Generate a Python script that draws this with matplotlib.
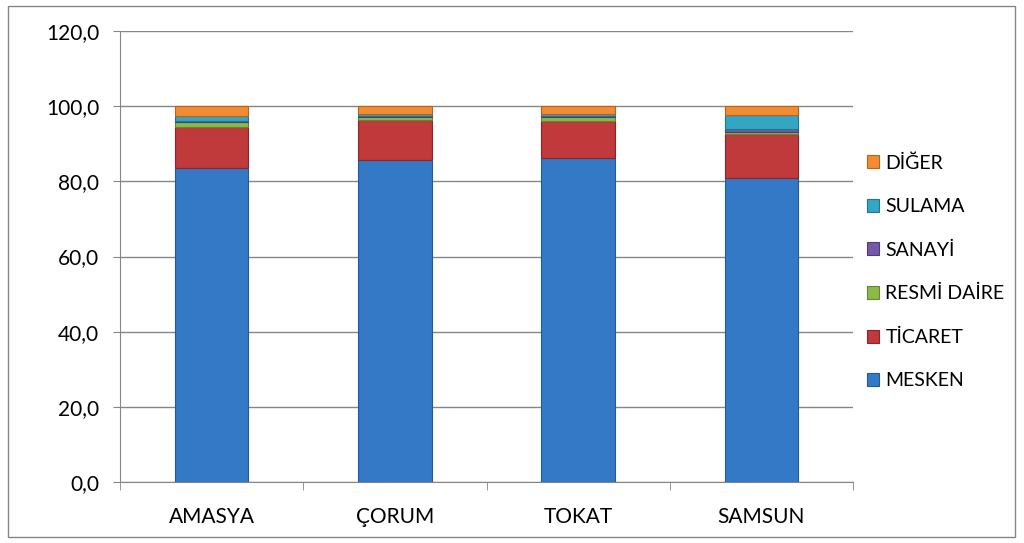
import matplotlib
matplotlib.use("Agg")
import matplotlib.pyplot as plt
from matplotlib.patches import Rectangle
import numpy as np

plt.rcParams['font.family'] = ['Lato', 'DejaVu Sans']

categories = ["AMASYA", "ÇORUM", "TOKAT", "SAMSUN"]
series_names = ["MESKEN", "TİCARET", "RESMİ DAİRE", "SANAYİ", "SULAMA", "DİĞER"]
mesken = [83.6, 85.7, 86.3, 81.0]
ticaret = [10.9, 10.6, 9.8, 11.7]
resmi = [1.3, 0.9, 1.0, 0.5]
sanayi = [0.2, 0.2, 0.2, 0.6]
sulama = [1.4, 0.6, 0.6, 3.8]
diger = [2.6, 2.0, 2.1, 2.4]
yticks = [0, 20, 40, 60, 80, 100, 120]
ytick_labels = ["0,0", "20,0", "40,0", "60,0", "80,0", "100,0", "120,0"]

colors = ["#3479C6", "#C0393B", "#8DB84A", "#7559A6", "#33A6C4", "#F18C33"]
edges = ["#1F5A99", "#8E2426", "#5E8A2C", "#4F3A7A", "#1F7690", "#B9621A"]
series = [mesken, ticaret, resmi, sanayi, sulama, diger]

fig = plt.figure(figsize=(10.24, 5.43), dpi=100)
ax = fig.add_axes([120/1024, 1-482/543, 733/1024, 451/543])

x = np.arange(len(categories))
bottom = np.zeros(len(categories))
handles = []
for name, vals, c, e in zip(series_names, series, colors, edges):
    b = ax.bar(x, vals, width=0.4, bottom=bottom, color=c, edgecolor=e,
               linewidth=0.8, label=name, zorder=3)
    handles.append(b)
    bottom += np.array(vals)

ax.set_xlim(-0.5, len(categories) - 0.5)
ax.set_ylim(0, 120)
ax.set_yticks(yticks)
ax.set_yticklabels(ytick_labels, fontsize=15)
ax.set_xticks(x)
ax.set_xticklabels(categories, fontsize=15)
ax.set_xticks(np.arange(-0.5, len(categories)), minor=True)
ax.tick_params(axis='x', which='major', length=0, pad=18)
ax.tick_params(axis='x', which='minor', length=6, color='#868686')
ax.tick_params(axis='y', length=5, color='#868686', pad=10)
ax.yaxis.grid(True, color='#868686', linewidth=1, zorder=0)
for s in ['top', 'right']:
    ax.spines[s].set_visible(False)
for s in ['left', 'bottom']:
    ax.spines[s].set_color('#868686')

leg = ax.legend(handles[::-1], series_names[::-1], loc='center left',
                bbox_to_anchor=(0.995, 0.466), frameon=False, fontsize=14,
                handlelength=0.65, handleheight=0.65, handletextpad=0.3,
                labelspacing=1.36)

fig.patches.append(Rectangle((8/1024, 6/543), 1007/1024, 531/543,
                             transform=fig.transFigure, fill=False,
                             edgecolor='#868686', linewidth=1))

fig.savefig("out.png", dpi=100)
